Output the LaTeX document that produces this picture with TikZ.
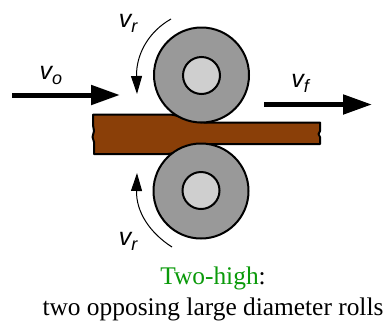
\documentclass[tikz,border=0pt]{standalone}
\usepackage{fontspec}
\setmainfont{Liberation Serif}
\setsansfont{Liberation Sans}
\usetikzlibrary{arrows.meta}
\definecolor{strip}{HTML}{8A3F08}
\definecolor{rollgray}{HTML}{999999}
\definecolor{hubgray}{HTML}{CFCFCF}
\definecolor{titlegreen}{HTML}{0A9A0A}
\tikzset{
  x=1pt,y=-1pt,
  roll/.style={circle,draw=black,line width=2pt,fill=rollgray,minimum size=95pt,inner sep=0pt},
  hub/.style={circle,draw=black,line width=2pt,fill=hubgray,minimum size=37pt,inner sep=0pt},
  speed/.style={line width=5pt,-{Triangle[length=29pt,width=19pt]}},
  turn/.style={line width=1pt,-{Triangle[length=18pt,width=11pt]}},
  vlabel/.style={inner sep=0pt,font=\sffamily\itshape\fontsize{25}{25}\selectfont},
  caption/.style={inner sep=0pt,anchor=base,font=\fontsize{25.4}{28}\selectfont}
}
\newcommand{\subs}[1]{\raisebox{-5pt}{\fontsize{18}{18}\selectfont #1}}
\begin{document}
\begin{tikzpicture}
\useasboundingbox (0,0) rectangle (387,322);
\fill[white] (0,0) rectangle (387,322);
% strip
\draw[line width=2pt,fill=strip,line join=round]
  (93,114.5) -- (170,114.5) .. controls (180,115) and (188,122) .. (204,122.5)
  -- (320,122.5) -- (320,131) -- (318.5,134) -- (320,137) -- (320,144)
  -- (204,144) .. controls (190,144) and (180,153) .. (168,154)
  -- (94,154) -- (94,142) -- (92.5,137) -- (94,131) -- (93,125) -- cycle;
% rolls
\node[roll] (upper) at (201.5,75) {};
\node[hub] (upperhub) at (201.5,75.5) {};
\node[roll] (lower) at (201,191) {};
\node[hub] (lowerhub) at (201,190.5) {};
% speed arrows
\coordinate (vostart) at (12,95);
\coordinate (voend) at (120,95);
\coordinate (vfstart) at (264,104.5);
\coordinate (vfend) at (372,104.5);
\draw[speed] (vostart) -- (voend);
\draw[speed] (vfstart) -- (vfend);
% roll rotation arrows
\coordinate (upstart) at (171,19);
\coordinate (uptip) at (137,94);
\coordinate (lowstart) at (172,247);
\coordinate (lowtip) at (137,173);
\draw[turn] (upstart) .. controls (148,32) and (136,55) .. (uptip);
\draw[turn] (lowstart) .. controls (150,233) and (136,212) .. (lowtip);
% labels
\node[vlabel] (vo) at (51,75) {v\subs{o}};
\node[vlabel] (vr1) at (128,23) {v\subs{r}};
\node[vlabel] (vf) at (300,83) {v\subs{f}};
\node[vlabel] (vr2) at (128,241) {v\subs{r}};
% caption
\node[caption] (title) at (213,284) {\textcolor{titlegreen}{Two-high}:};
\node[caption] (desc) at (213,315) {two opposing large diameter rolls};
\end{tikzpicture}
\end{document}
